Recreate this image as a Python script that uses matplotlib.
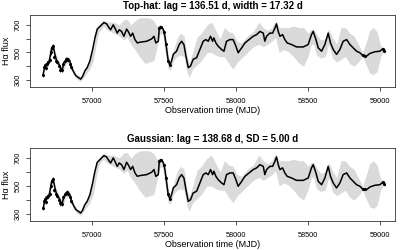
import matplotlib
matplotlib.use('Agg')
import matplotlib.pyplot as plt
import numpy as np

plt.rcParams['font.family'] = ['Liberation Sans', 'DejaVu Sans']

# interpolated light curve (black line)
line_t = [56662, 56674, 56685, 56704, 56720, 56731, 56743, 56755, 56766, 56782,
          56792, 56806, 56819, 56835, 56847, 56859, 56875, 56889, 56905, 56922,
          56935, 56951, 56967, 56986, 57005, 57021, 57037, 57051, 57067, 57083,
          57102, 57113, 57130, 57148, 57160, 57176, 57190, 57206, 57222, 57241,
          57252, 57269, 57283, 57299, 57315, 57333, 57380, 57415, 57431, 57444,
          57461, 57468, 57477, 57495, 57507, 57519, 57530, 57542, 57553, 57565,
          57588, 57606, 57623, 57639, 57653, 57669, 57685, 57703, 57727, 57750,
          57773, 57792, 57808, 57824, 57838, 57847, 57861, 57877, 57901, 57917,
          57935, 57958, 57981, 58000, 58016, 58040, 58063, 58097, 58120, 58144,
          58167, 58190, 58201, 58213, 58236, 58255, 58271, 58282, 58294, 58306,
          58324, 58340, 58356, 58387, 58421, 58468, 58502, 58525, 58537, 58556,
          58572, 58595, 58618, 58641, 58657, 58676, 58699, 58722, 58745, 58769,
          58792, 58815, 58838, 58861, 58884, 58908, 58931, 58965, 59000, 59019,
          59035]
line_f = [343, 402, 414, 438, 533, 550, 486, 438, 426, 390,
          367, 426, 438, 455, 438, 390, 355, 331, 319, 307,
          326, 367, 390, 438, 521, 605, 669, 683, 700, 716,
          707, 688, 664, 700, 676, 640, 664, 652, 617, 669,
          652, 617, 640, 593, 569, 574, 581, 598, 617, 569,
          581, 676, 688, 669, 617, 521, 438, 407, 438, 486,
          509, 557, 581, 557, 474, 390, 402, 450, 462, 521,
          581, 593, 581, 617, 581, 605, 569, 545, 521, 509,
          581, 593, 593, 545, 498, 533, 569, 598, 617, 629,
          652, 640, 581, 617, 640, 640, 676, 707, 652, 617,
          629, 593, 569, 557, 540, 540, 557, 629, 652, 593,
          533, 509, 557, 640, 569, 521, 486, 521, 581, 593,
          557, 533, 509, 498, 474, 474, 493, 505, 509, 526,
          509]

# model envelope (grey band)
band_t = [56655, 56675, 56700, 56720, 56730, 56745, 56770, 56792, 56820, 56840,
          56860, 56890, 56920, 56950, 56985, 57010, 57030, 57050, 57080, 57110,
          57150, 57190, 57220, 57245, 57270, 57300, 57330, 57370, 57400, 57430,
          57450, 57470, 57490, 57510, 57530, 57545, 57565, 57590, 57615, 57640,
          57660, 57675, 57700, 57730, 57760, 57800, 57830, 57860, 57890, 57920,
          57950, 57980, 58010, 58040, 58080, 58120, 58160, 58190, 58220, 58250,
          58275, 58300, 58330, 58360, 58400, 58440, 58470, 58500, 58525, 58540,
          58560, 58590, 58620, 58645, 58670, 58700, 58730, 58760, 58790, 58820,
          58850, 58880, 58900, 58930, 58955, 58980, 59005, 59020, 59040]
band_lo = [320, 385, 410, 500, 520, 460, 405, 350, 415, 430,
           370, 310, 290, 330, 380, 440, 560, 650, 690, 660,
           640, 620, 590, 610, 560, 520, 470, 420, 430, 440,
           530, 630, 640, 500, 380, 370, 440, 470, 480, 470,
           360, 320, 380, 410, 440, 500, 500, 480, 470, 470,
           420, 380, 430, 460, 500, 540, 560, 540, 560, 580,
           610, 500, 520, 510, 470, 420, 400, 470, 560, 560,
           480, 460, 470, 560, 460, 430, 450, 470, 420, 400,
           430, 470, 420, 350, 340, 360, 470, 500, 495]
band_hi = [360, 425, 460, 545, 565, 500, 440, 395, 460, 470,
           410, 345, 325, 375, 440, 540, 660, 700, 735, 720,
           720, 700, 735, 740, 700, 730, 750, 752, 750, 730,
           690, 700, 690, 640, 480, 430, 510, 600, 640, 620,
           480, 420, 500, 610, 640, 700, 720, 660, 600, 680,
           650, 640, 580, 570, 620, 650, 720, 680, 660, 680,
           730, 680, 680, 680, 690, 680, 680, 640, 670, 670,
           630, 590, 600, 670, 610, 560, 680, 680, 640, 620,
           560, 500, 560, 660, 680, 650, 550, 540, 525]

# observed points
obs_t = [56662, 56668, 56675, 56681, 56690, 56698, 56706, 56715, 56722, 56728,
         56740, 56750, 56760, 56770, 56780, 56790, 56800, 56810, 56818, 56826,
         56835, 56845, 56855, 57468, 57480, 57500, 57515, 57530, 57545, 58880,
         58895, 59020, 59030]
obs_f = [340, 395, 410, 385, 420, 430, 445, 500, 535, 548,
         470, 440, 430, 400, 375, 370, 420, 440, 450, 455,
         445, 420, 395, 675, 685, 650, 560, 440, 410, 478,
         476, 525, 512]
obs_e = [15, 15, 15, 15, 15, 15, 15, 15, 15, 15,
         15, 15, 15, 15, 15, 15, 15, 15, 15, 15,
         15, 15, 15, 10, 10, 10, 10, 10, 10, 8,
         8, 8, 8]

titles = ['Top-hat: lag = 136.51 d, width = 17.32 d',
          'Gaussian: lag = 138.68 d, SD = 5.00 d']

fig = plt.figure(figsize=(4, 2.5), dpi=100)
boxes = [[0.075, 0.652, 0.9125, 0.288], [0.075, 0.116, 0.9125, 0.292]]

for box, title in zip(boxes, titles):
    ax = fig.add_axes(box)
    ax.fill_between(band_t, band_lo, band_hi, color='#dadada', lw=0)
    ax.errorbar(obs_t, obs_f, yerr=obs_e, fmt='o', ms=1.2, color='black',
                elinewidth=0.5, capsize=0)
    ax.plot(line_t, line_f, color='black', lw=1.1)
    ax.set_xlim(56570, 59105)
    ax.set_ylim(250, 771)
    ax.set_xticks([57000, 57500, 58000, 58500, 59000])
    ax.set_yticks([300, 400, 500, 600, 700])
    ax.set_yticklabels(['300', '', '500', '', '700'], rotation=90, va='center')
    ax.tick_params(direction='out', length=2.8, width=0.6, labelsize=5.3,
                   colors='#333333', labelcolor='black')
    ax.tick_params(axis='x', pad=5)
    ax.tick_params(axis='y', pad=3)
    for s in ax.spines.values():
        s.set_linewidth(0.6)
        s.set_color('#333333')
    ax.set_title(title, fontsize=7, fontweight='bold', pad=4)
    ax.set_xlabel('Observation time (MJD)', fontsize=6.5, labelpad=1)
    ax.set_ylabel('H\u03b1 flux', fontsize=6.5, labelpad=3)

fig.savefig('out.png', dpi=100)
